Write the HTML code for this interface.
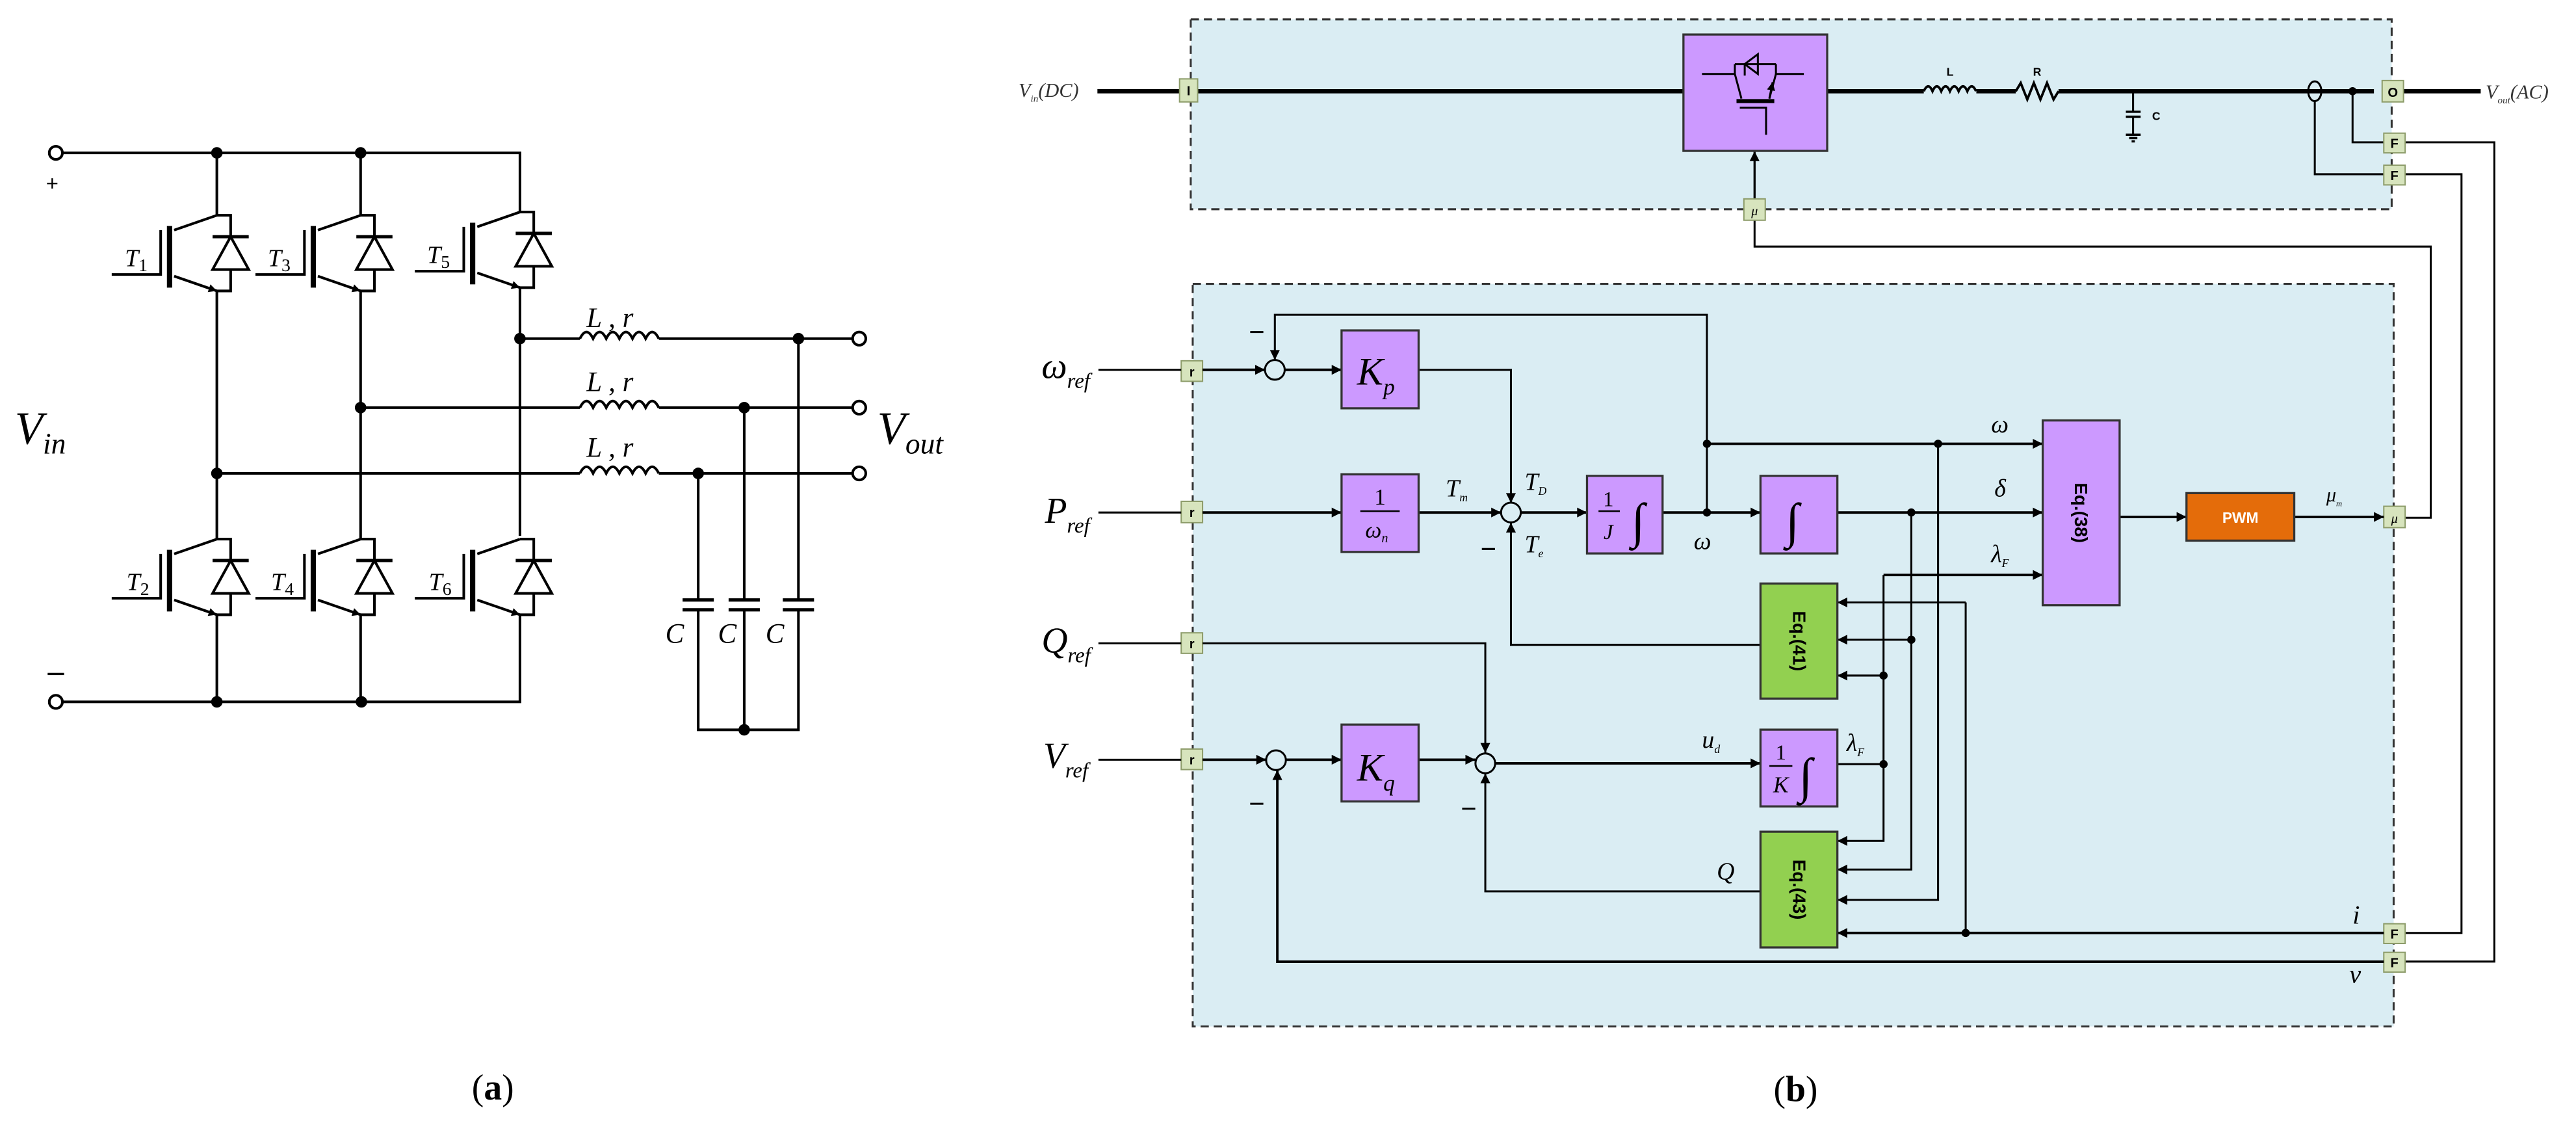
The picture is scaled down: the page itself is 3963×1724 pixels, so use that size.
<!DOCTYPE html>
<html><head><meta charset="utf-8"><style>
html,body{margin:0;padding:0;background:#fff;}
svg{display:block;}
.s{font-family:"Liberation Serif",serif;font-style:italic;}
.b{font-family:"Liberation Sans",sans-serif;font-weight:bold;}
</style></head><body>
<svg width="3963" height="1724" viewBox="0 0 1568 682" preserveAspectRatio="none" xmlns="http://www.w3.org/2000/svg">
<defs>
<marker id="ar" viewBox="0 0 10 10" refX="10" refY="5" markerWidth="7" markerHeight="6" markerUnits="userSpaceOnUse" orient="auto"><path d="M0,0L10,5L0,10Z" fill="#000"/></marker>
<marker id="ea" viewBox="0 0 10 10" refX="10" refY="5" markerWidth="6" markerHeight="5" markerUnits="userSpaceOnUse" orient="auto"><path d="M0,0L10,5L0,10Z" fill="#000"/></marker>
<g id="igbt" fill="none" stroke="#000" stroke-width="1.6">
<path d="M0,0H8.4V13"/><path d="M-2.6,13H19.4" stroke-width="2"/><path d="M8.4,13L-2.6,33H19.4Z"/><path d="M8.4,33V46H0"/>
<path d="M0,0L-26,9"/><path d="M-26,37L0,46" marker-end="url(#ea)"/>
<rect x="-30.4" y="6.5" width="3.2" height="37.5" fill="#000" stroke="none"/>
<path d="M-34.2,9V36H-64"/>
</g>
</defs>

<!-- ===== Panel (a) ===== -->
<g stroke="#000" stroke-width="1.6" fill="none">
<path d="M37,93H316.5V129"/>
<path d="M38,427H316.5V374"/>
<path d="M132,93V131M132,177V328M132,374V427"/>
<path d="M219.5,93V131M219.5,177V328M219.5,374V427"/>
<path d="M316.5,175V326"/>
<path d="M316.5,206H353M401,206H519"/>
<path d="M219.5,248H353M401,248H519"/>
<path d="M132,288H353M401,288H519"/>
<path d="M353,206q4,-8 8,0q4,-8 8,0q4,-8 8,0q4,-8 8,0q4,-8 8,0q4,-8 8,0"/>
<path d="M353,248q4,-8 8,0q4,-8 8,0q4,-8 8,0q4,-8 8,0q4,-8 8,0q4,-8 8,0"/>
<path d="M353,288q4,-8 8,0q4,-8 8,0q4,-8 8,0q4,-8 8,0q4,-8 8,0q4,-8 8,0"/>
<path d="M425,288V365M425,371V444H486V371M486,365V206"/>
<path d="M453,248V365M453,371V444"/>
<path d="M415.5,365H434.5M415.5,371H434.5M443.5,365H462.5M443.5,371H462.5M476.5,365H495.5M476.5,371H495.5" stroke-width="2"/>
<circle cx="34" cy="93" r="4" fill="#fff"/>
<circle cx="34" cy="427" r="4" fill="#fff"/>
<circle cx="523" cy="206" r="4" fill="#fff"/>
<circle cx="523" cy="248" r="4" fill="#fff"/>
<circle cx="523" cy="288" r="4" fill="#fff"/>
</g>
<use href="#igbt" x="132" y="131"/>
<use href="#igbt" x="219.5" y="131"/>
<use href="#igbt" x="316.5" y="129"/>
<use href="#igbt" x="132" y="328"/>
<use href="#igbt" x="219.5" y="328"/>
<use href="#igbt" x="316.5" y="328"/>
<g fill="#000">
<circle cx="132" cy="93" r="3.5"/><circle cx="219.5" cy="93" r="3.5"/>
<circle cx="132" cy="427" r="3.5"/><circle cx="220" cy="427" r="3.5"/>
<circle cx="316.5" cy="206" r="3.5"/><circle cx="219.5" cy="248" r="3.5"/><circle cx="132" cy="288" r="3.5"/>
<circle cx="486" cy="206" r="3.5"/><circle cx="453" cy="248" r="3.5"/><circle cx="425" cy="288" r="3.5"/>
<circle cx="453" cy="444" r="3.5"/>
</g>
<g class="s" font-size="15" fill="#000">
<text x="76" y="162">T<tspan font-size="11" font-style="normal" dy="3">1</tspan></text>
<text x="163" y="162">T<tspan font-size="11" font-style="normal" dy="3">3</tspan></text>
<text x="260" y="160">T<tspan font-size="11" font-style="normal" dy="3">5</tspan></text>
<text x="77" y="359">T<tspan font-size="11" font-style="normal" dy="3">2</tspan></text>
<text x="165" y="359">T<tspan font-size="11" font-style="normal" dy="3">4</tspan></text>
<text x="261" y="359">T<tspan font-size="11" font-style="normal" dy="3">6</tspan></text>
<text x="357" y="199" font-size="17">L , r</text>
<text x="357" y="238" font-size="17">L , r</text>
<text x="357" y="278" font-size="17">L , r</text>
<text x="405" y="391" font-size="17">C</text>
<text x="437" y="391" font-size="17">C</text>
<text x="466" y="391" font-size="17">C</text>
<text x="9" y="270" font-size="28">V<tspan font-size="18" dy="6">in</tspan></text>
<text x="534" y="270" font-size="28">V<tspan font-size="18" dy="6">out</tspan></text>
</g>
<text x="28" y="116" font-family="Liberation Sans,sans-serif" font-size="13">+</text>
<path d="M29,410H39" stroke="#000" stroke-width="1.3"/>
<text x="300" y="669" text-anchor="middle" font-family="Liberation Serif,serif" font-size="22">(<tspan font-weight="bold">a</tspan>)</text>

<!-- ===== Panel (b) ===== -->
<rect x="724.8" y="11.8" width="731" height="115.5" fill="#daedf3" stroke="#333" stroke-width="1.2" stroke-dasharray="5,3"/>
<rect x="726" y="172.7" width="731" height="451.8" fill="#daedf3" stroke="#333" stroke-width="1.2" stroke-dasharray="5,3"/>

<g stroke="#000" fill="none">
<path d="M668,55.5H1024.7" stroke-width="2.6"/>
<path d="M1112.2,55.5H1171M1203,55.5H1227M1253,55.5H1445M1463,55.5H1510" stroke-width="2.6"/>
<path d="M1171,55.5q2.7,-6 5.3,0q2.7,-6 5.3,0q2.7,-6 5.3,0q2.7,-6 5.3,0q2.7,-6 5.3,0q2.7,-6 5.3,0" stroke-width="1.5"/>
<path d="M1227,55.5l3,-5l4,10l4,-10l4,10l4,-10l4,10l3,-5" stroke-width="1.5"/>
<path d="M1298.4,55.5V68M1298.4,71V82" stroke-width="1.2"/>
<path d="M1294,68H1303M1294,71H1303M1294,82H1303M1296,84H1301M1297.5,86H1299.5" stroke-width="1.4"/>
<ellipse cx="1409" cy="55.5" rx="4" ry="6" fill="none" stroke-width="1.2"/>
<path d="M1409,61.5V106H1451M1432,55.5V86.6H1451" stroke-width="1.2"/>
<path d="M1464,86.6H1518.3V585H1464M1464,106H1498.3V567.6H1464" stroke-width="1.2"/>
<path d="M1068,121V92" stroke-width="1.3" marker-end="url(#ar)"/>
<path d="M1068,134V150H1479.6V315H1464" stroke-width="1.2"/>
</g>
<circle cx="1432" cy="55.5" r="2.5"/>
<rect x="1024.7" y="21" width="87.5" height="70.8" fill="#cc99ff" stroke="#333" stroke-width="1.3"/>
<g stroke="#000" stroke-width="1.2" fill="none">
<path d="M1036,45H1056V39M1081,39V45H1098"/>
<path d="M1056,39H1081"/><path d="M1062,39V46M1062,39L1070,33V45ZM1070,33V45" />
<path d="M1056,45L1060,60M1081,45L1077,60"/>
<path d="M1077,60L1079,50" marker-end="url(#ea)"/>
<path d="M1057,61.5H1080" stroke-width="2.4"/>
<path d="M1059,65.5H1075V82"/>
</g>
<text x="1187" y="46" text-anchor="middle" class="b" font-size="7">L</text>
<text x="1240" y="46" text-anchor="middle" class="b" font-size="7">R</text>
<text x="1310" y="73" class="b" font-size="7">C</text>
<text x="620" y="59" class="s" font-size="12" fill="#333">V<tspan font-size="6" dy="3">in</tspan><tspan dy="-3">(DC)</tspan></text>
<text x="1513" y="60" class="s" font-size="12" fill="#333">V<tspan font-size="6" dy="3">out</tspan><tspan dy="-3">(AC)</tspan></text>

<g fill="#d7e4bd" stroke="#8d9c6a" stroke-width="0.8">
<rect x="718" y="48" width="11" height="14"/>
<rect x="1450" y="49" width="13" height="13"/>
<rect x="1451" y="81" width="13" height="12"/>
<rect x="1451" y="100.5" width="13" height="12"/>
<rect x="1061.5" y="121" width="13" height="13"/>
<rect x="719" y="219.5" width="13" height="12.5"/>
<rect x="719" y="305" width="13" height="13"/>
<rect x="719" y="385" width="13" height="12.5"/>
<rect x="719" y="455.7" width="13" height="12.5"/>
<rect x="1451" y="308" width="13" height="13"/>
<rect x="1451" y="562" width="13" height="12"/>
<rect x="1451" y="579.4" width="13" height="12"/>
</g>
<g class="b" font-size="8" text-anchor="middle" fill="#000">
<text x="723.5" y="58">I</text><text x="1456.5" y="59">O</text>
<text x="1457.5" y="90">F</text><text x="1457.5" y="109.5">F</text>
<text x="725.5" y="229">r</text><text x="725.5" y="314.5">r</text><text x="725.5" y="394.5">r</text><text x="725.5" y="465">r</text>
<text x="1457.5" y="571">F</text><text x="1457.5" y="588.5">F</text>
</g>
<text x="1068" y="131" text-anchor="middle" class="s" font-size="8">μ</text>
<text x="1457.5" y="318" text-anchor="middle" class="s" font-size="8">μ</text>

<g stroke="#000" stroke-width="1.2" fill="none">
<path d="M668.6,225H719"/>
<path d="M732,225H770" stroke-width="1.6" marker-end="url(#ar)"/>
<path d="M782,225H816.6" stroke-width="1.6" marker-end="url(#ar)"/>
<path d="M1039,312.7V191.5H776V219" marker-end="url(#ar)"/>
<path d="M863.5,225H919.7V306" marker-end="url(#ar)"/>
<path d="M668.6,311.8H719"/>
<path d="M732,311.8H816.6" stroke-width="1.5" marker-end="url(#ar)"/>
<path d="M863.5,311.8H913.7" stroke-width="1.5" marker-end="url(#ar)"/>
<path d="M925.7,311.8H966" stroke-width="1.5" marker-end="url(#ar)"/>
<path d="M1012,311.8H1071.6" stroke-width="1.5" marker-end="url(#ar)"/>
<path d="M1039,270H1243.4" stroke-width="1.5" marker-end="url(#ar)"/>
<path d="M1118.4,311.8H1243.4" stroke-width="1.5" marker-end="url(#ar)"/>
<path d="M1146.5,349.8H1243.4" stroke-width="1.5" marker-end="url(#ar)"/>
<path d="M1290.2,314.5H1330.9" stroke-width="1.5" marker-end="url(#ar)"/>
<path d="M1396.5,314.5H1451" stroke-width="1.5" marker-end="url(#ar)"/>
<path d="M1071.6,392.3H919.7V318" marker-end="url(#ar)"/>
<path d="M1196.5,366.5H1118.4" marker-end="url(#ar)"/>
<path d="M1163.4,389.2H1118.4" marker-end="url(#ar)"/>
<path d="M1146.5,411H1118.4" marker-end="url(#ar)"/>
<path d="M1196.5,366.5V567.6"/>
<path d="M668.6,391.4H719"/>
<path d="M732,391.4H904.1V458" marker-end="url(#ar)"/>
<path d="M668.6,462.2H719"/>
<path d="M732,462.2H770.7" stroke-width="1.5" marker-end="url(#ar)"/>
<path d="M782.7,462.2H816.6" stroke-width="1.5" marker-end="url(#ar)"/>
<path d="M863.5,462.2H898" stroke-width="1.5" marker-end="url(#ar)"/>
<path d="M910,464.4H1071.6" stroke-width="1.5" marker-end="url(#ar)"/>
<path d="M1118.4,464.9H1146.5"/>
<path d="M1146.5,349.8V511.6H1118.4" marker-end="url(#ar)"/>
<path d="M1163.4,311.8V529H1118.4" marker-end="url(#ar)"/>
<path d="M1179.7,270V547.5H1118.4" marker-end="url(#ar)"/>
<path d="M1451,567.6H1118.4" stroke-width="1.5" marker-end="url(#ar)"/>
<path d="M1071.6,542.3H904.1V470.5" marker-end="url(#ar)"/>
<path d="M1451,585.1H777.5V468.5" stroke-width="1.5" marker-end="url(#ar)"/>
</g>
<g fill="none" stroke="#000" stroke-width="1.2">
<circle cx="776" cy="225" r="6"/>
<circle cx="919.7" cy="311.8" r="6"/>
<circle cx="776.7" cy="462.5" r="6"/>
<circle cx="904.1" cy="464.4" r="6"/>
</g>
<g fill="#000">
<circle cx="1039" cy="311.8" r="2.5"/><circle cx="1039" cy="270" r="2.5"/><circle cx="1179.7" cy="270" r="2.5"/>
<circle cx="1163.4" cy="311.8" r="2.5"/><circle cx="1163.4" cy="389.2" r="2.5"/><circle cx="1146.5" cy="411" r="2.5"/>
<circle cx="1146.5" cy="464.9" r="2.5"/><circle cx="1196.5" cy="567.6" r="2.5"/>
</g>

<g stroke="#333" stroke-width="1.3">
<rect x="816.6" y="201" width="46.9" height="47.4" fill="#cc99ff"/>
<rect x="816.6" y="288.6" width="46.9" height="47.2" fill="#cc99ff"/>
<rect x="966" y="289.5" width="46" height="47.2" fill="#cc99ff"/>
<rect x="1071.6" y="289.5" width="46.8" height="47.2" fill="#cc99ff"/>
<rect x="1243.4" y="255.8" width="46.8" height="112.4" fill="#cc99ff"/>
<rect x="1330.9" y="300" width="65.6" height="28.9" fill="#e46c0a"/>
<rect x="1071.6" y="355" width="46.8" height="70" fill="#92d050"/>
<rect x="816.6" y="440.8" width="46.9" height="46.8" fill="#cc99ff"/>
<rect x="1071.6" y="443.9" width="46.8" height="46.7" fill="#cc99ff"/>
<rect x="1071.6" y="506" width="46.8" height="70.4" fill="#92d050"/>
</g>
<g class="s" fill="#000">
<text x="826" y="234" font-size="24">K<tspan font-size="14" dy="6">p</tspan></text>
<text x="826" y="475" font-size="24">K<tspan font-size="14" dy="6">q</tspan></text>
<text x="840" y="307" font-size="14" font-style="normal" text-anchor="middle">1</text>
<path d="M828,311H852" stroke="#000" stroke-width="1"/>
<text x="838" y="327" font-size="14" text-anchor="middle">ω<tspan font-size="8" dy="3">n</tspan></text>
<text x="979" y="308" font-size="13" font-style="normal" text-anchor="middle">1</text>
<path d="M973,311H986" stroke="#000" stroke-width="1"/>
<text x="979" y="328" font-size="13" text-anchor="middle">J</text>
<text x="993" y="327" font-size="30">∫</text>
<text x="1087" y="327" font-size="30">∫</text>
<text x="1084" y="462" font-size="13" font-style="normal" text-anchor="middle">1</text>
<path d="M1077,466H1091" stroke="#000" stroke-width="1"/>
<text x="1084" y="482" font-size="14" text-anchor="middle">K</text>
<text x="1095" y="482" font-size="30">∫</text>
<text x="634" y="230" font-size="22">ω<tspan font-size="13" dy="6">ref</tspan></text>
<text x="636" y="318" font-size="22">P<tspan font-size="13" dy="6">ref</tspan></text>
<text x="634" y="397" font-size="22">Q<tspan font-size="13" dy="6">ref</tspan></text>
<text x="635" y="467" font-size="22">V<tspan font-size="13" dy="6">ref</tspan></text>
<text x="880" y="302" font-size="15">T<tspan font-size="7" dy="3">m</tspan></text>
<text x="928" y="298" font-size="15">T<tspan font-size="7" dy="3">D</tspan></text>
<text x="928" y="336" font-size="15">T<tspan font-size="7" dy="3">e</tspan></text>
<text x="1031" y="334" font-size="15">ω</text>
<text x="1212" y="263" font-size="15">ω</text>
<text x="1214" y="302" font-size="15">δ</text>
<text x="1212" y="342" font-size="15">λ<tspan font-size="7" dy="3">F</tspan></text>
<text x="1036" y="455" font-size="15">u<tspan font-size="7" dy="3">d</tspan></text>
<text x="1124" y="457" font-size="15">λ<tspan font-size="7" dy="3">F</tspan></text>
<text x="1045" y="535" font-size="15">Q</text>
<text x="1416" y="305" font-size="12">μ<tspan font-size="5" dy="3">m</tspan></text>
<text x="1432" y="562" font-size="16">i</text>
<text x="1430" y="598" font-size="16">v</text>
</g>
<g stroke="#000" stroke-width="1.2">
<path d="M761,202H769M902,334H910M761,489H769M890,492H898"/>
</g>
<text class="b" font-size="9" fill="#fff" x="1363.7" y="318" text-anchor="middle">PWM</text>
<g class="b" font-size="11" fill="#000" text-anchor="middle">
<text transform="translate(1263,312) rotate(90)">Eq.(38)</text>
<text transform="translate(1091.5,390) rotate(90)">Eq.(41)</text>
<text transform="translate(1091.5,541.2) rotate(90)">Eq.(43)</text>
</g>
<text x="1093" y="670" text-anchor="middle" font-family="Liberation Serif,serif" font-size="22">(<tspan font-weight="bold">b</tspan>)</text>
</svg>
</body></html>
